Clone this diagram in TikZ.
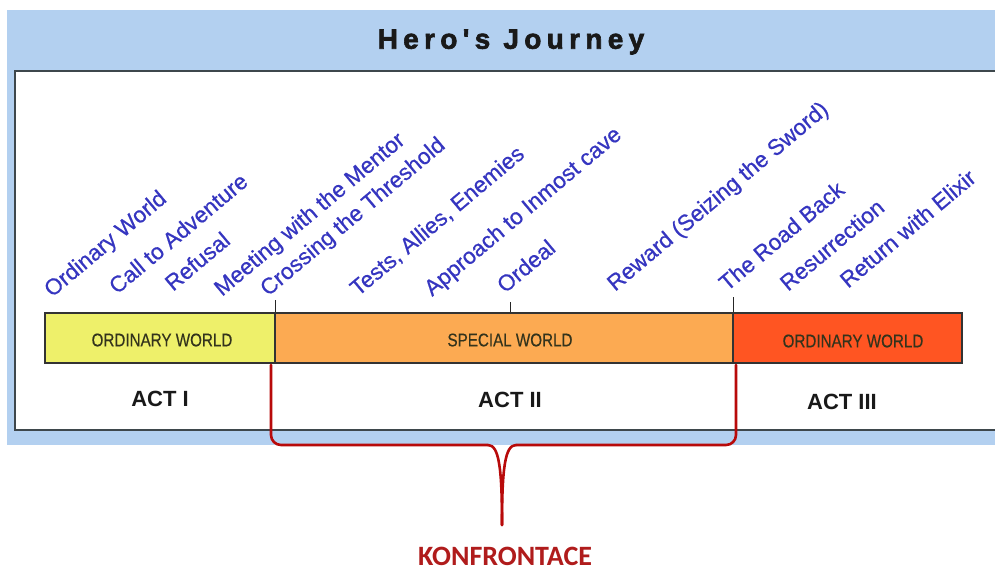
\documentclass[tikz,border=0pt]{standalone}
\usepackage{fontspec}
\setmainfont{Liberation Sans}
\newfontfamily\carl{Carlito}
\newfontfamily\lblfont[FakeBold=0.6]{Liberation Sans}
\newfontfamily\segfont[FakeBold=0.4]{Liberation Sans}
\newfontfamily\titlefont[FakeBold=2.2,LetterSpace=19]{Liberation Sans Bold}
\definecolor{bandblue}{HTML}{B3D0F0}
\definecolor{lblblue}{HTML}{3535C0}
\definecolor{yelw}{HTML}{EEF06A}
\definecolor{oraw}{HTML}{FCAA52}
\definecolor{redw}{HTML}{FF5522}
\definecolor{bracered}{HTML}{B80A0A}
\definecolor{konred}{HTML}{B01C1C}
\definecolor{framegrey}{HTML}{3E474C}
\definecolor{boxtext}{HTML}{33331C}
\begin{document}
\begin{tikzpicture}[x=1pt,y=-1pt,
  lbl/.style={anchor=base west,rotate=40,text=lblblue,font=\lblfont\fontsize{22.5}{24}\selectfont,inner sep=0pt},
  seg/.style={draw=black!80,line width=1.2pt,minimum height=50pt,inner sep=0pt},
  segtext/.style={font=\segfont\fontsize{16}{18}\selectfont,text=boxtext,yscale=1.15,xscale=0.95},
  act/.style={font=\bfseries\fontsize{22}{24}\selectfont,text=black!90,inner sep=0pt},
  tick/.style={draw=black!85,line width=1pt},
  bracestyle/.style={draw=bracered,line width=2.6pt,line join=round,line cap=round}]
\useasboundingbox (0,0) rectangle (995,571);
\fill[white] (0,0) rectangle (995,571);
% blue band and frame
\fill[bandblue] (7,10) rectangle (995,445);
\node[draw=framegrey,fill=white,line width=2pt,minimum width=1000pt,minimum height=359pt,anchor=north west,inner sep=0pt] (frame) at (14,69.5) {};
\node[font=\titlefont\fontsize{28}{30}\selectfont,text=black!90] (title) at (511,42) {Hero\char"27 s Journey};
% world bar
\node[seg,fill=yelw,minimum width=230pt] (yw) at (160,338) {};
\node[seg,fill=oraw,minimum width=458pt] (sw) at (504,338) {};
\node[seg,fill=redw,minimum width=229pt] (rw) at (847.5,338) {};
\node[segtext] (ywt) at (162,340) {ORDINARY WORLD};
\node[segtext] (swt) at (510,340) {SPECIAL WORLD};
\node[segtext] (rwt) at (853,341) {ORDINARY WORLD};
% ticks
\coordinate (t1) at (275,300);
\coordinate (t2) at (510,302);
\coordinate (t3) at (733,297);
\draw[tick] (t1) -- (t1 |- sw.north);
\draw[tick] (t2) -- (t2 |- sw.north);
\draw[tick] (t3) -- (t3 |- sw.north);
% acts
\node[act] (a1) at (160,399) {ACT I};
\node[act] (a2) at (510,400) {ACT II};
\node[act] (a3) at (842,402) {ACT III};
% stage labels
\node[lbl] (l1) at (52,298) {Ordinary World};
\node[lbl] (l2) at (117,295) {Call to Adventure};
\node[lbl] (l3) at (173,292) {Refusal};
\node[lbl] (l4) at (222,297) {Meeting with the Mentor};
\node[lbl] (l5) at (268,297) {Crossing the Threshold};
\node[lbl] (l6) at (358,297) {Tests, Allies, Enemies};
\node[lbl] (l7) at (432,297) {Approach to Inmost cave};
\node[lbl] (l8) at (505,294) {Ordeal};
\node[lbl] (l9) at (615,292) {Reward (Seizing the Sword)};
\node[lbl] (l10) at (727,292) {The Road Back};
\node[lbl] (l11) at (788,292) {Resurrection};
\node[lbl] (l12) at (848,289) {Return with Elixir};
% brace
\coordinate (bl) at (271,365);
\coordinate (br) at (736,365);
\coordinate (tip) at (502,525);
\draw[bracestyle,rounded corners=10pt] (bl) |- (488,445);
\draw[bracestyle] (488,445) .. controls (499,445) and (502,468) .. (tip);
\draw[bracestyle] (tip) .. controls (502,468) and (505,445) .. (516,445);
\draw[bracestyle,rounded corners=10pt] (516,445) -| (br);
\node[font=\carl\bfseries\fontsize{28}{30}\selectfont,text=konred] (kon) at (505,556) {KONFRONTACE};
\end{tikzpicture}
\end{document}
